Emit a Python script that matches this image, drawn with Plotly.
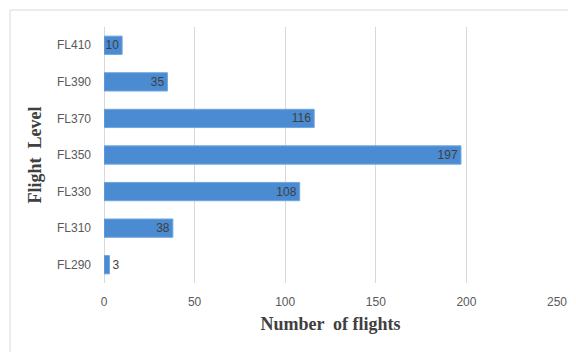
import plotly.graph_objects as go

levels = ["FL290", "FL310", "FL330", "FL350", "FL370", "FL390", "FL410"]
flights = [3, 38, 108, 197, 116, 35, 10]
positions = ["outside", "inside", "inside", "inside", "inside", "inside", "inside"]

# page body has an 8px margin, so the figure origin sits at (8, 8)
OFF = 8
W, H = 576 - OFF, 352 - OFF
L, R, T, B = 104 - OFF, 19, 27 - OFF, 69
pw, ph = W - L - R, H - T - B

def px(x):
    return (x - OFF - L) / pw

def py(y):
    return (352 - B - y) / ph

fig = go.Figure(go.Bar(
    x=flights, y=levels, orientation="h",
    marker=dict(color="#4a8bd2", line=dict(color="#6fa6e0", width=1)),
    text=[str(v) for v in flights],
    textposition=positions,
    insidetextanchor="end",
    textangle=0,
    constraintext="none",
    textfont=dict(family="Liberation Sans, Arial", size=12, color="#404040"),
    cliponaxis=False,
))

fig.update_layout(
    width=W, height=H,
    margin=dict(l=L, r=R, t=T, b=B, autoexpand=False),
    paper_bgcolor="white", plot_bgcolor="white",
    bargap=0.5,
    showlegend=False,
    font=dict(family="Liberation Sans, Arial", size=12, color="#595959"),
    xaxis=dict(
        range=[0, 250], tickvals=[0, 50, 100, 150, 200, 250],
        showgrid=True, gridcolor="#d9d9d9", gridwidth=1,
        zeroline=True, zerolinecolor="#d9d9d9", zerolinewidth=1,
        showline=False, ticks="", ticklabelstandoff=10, automargin=False,
        tickfont=dict(size=12, color="#595959"),
        title=dict(text="<b>Number  of flights</b>", standoff=9,
                   font=dict(family="Liberation Serif, Times New Roman", size=18, color="#404040")),
    ),
    yaxis=dict(
        showgrid=False, showline=False, ticks="", ticklabelstandoff=12, automargin=False,
        tickfont=dict(size=12, color="#595959"),
        title=dict(text="<b>Flight  Level</b>", standoff=10,
                   font=dict(family="Liberation Serif, Times New Roman", size=18, color="#404040")),
    ),
    shapes=[dict(type="rect", xref="paper", yref="paper",
                 x0=px(10), x1=px(582), y0=py(358), y1=py(10),
                 line=dict(color="#d9d9d9", width=1), fillcolor="rgba(0,0,0,0)", layer="below")],
)

fig.write_html("out.html")
